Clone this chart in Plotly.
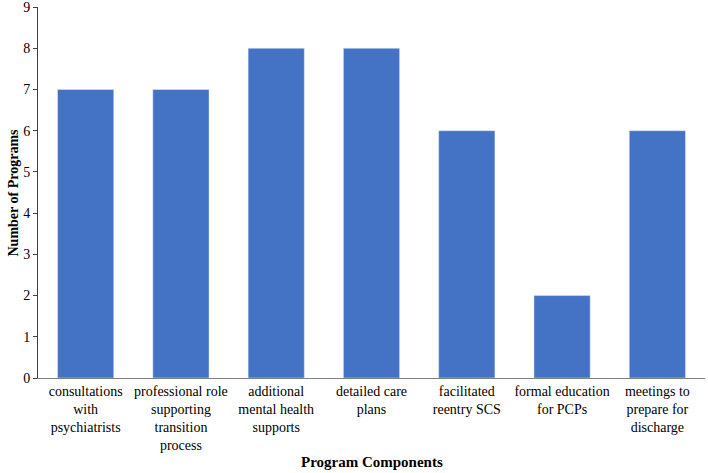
import plotly.graph_objects as go

categories = [
    "consultations<br>with<br>psychiatrists",
    "professional role<br>supporting<br>transition<br>process",
    "additional<br>mental health<br>supports",
    "detailed care<br>plans",
    "facilitated<br>reentry SCS",
    "formal education<br>for PCPs",
    "meetings to<br>prepare for<br>discharge",
]
values = [7, 7, 8, 8, 6, 2, 6]
y_ticks = list(range(0, 10))

font_family = "Liberation Serif, Times New Roman, serif"

fig = go.Figure(go.Bar(x=categories, y=values, marker_color="#4472C4", width=0.59))

fig.update_layout(
    width=708, height=473,
    margin=dict(l=38, r=3, t=7, b=95, autoexpand=False),
    plot_bgcolor="white", paper_bgcolor="white",
    font=dict(family=font_family, size=14, color="#000000"),
    showlegend=False,
    bargap=0.41,
    annotations=[
        dict(text="<b>Program Components</b>", xref="paper", yref="paper",
             x=0.5, y=0, yshift=-84, xanchor="center", yanchor="middle",
             showarrow=False, font=dict(family=font_family, size=15)),
        dict(text="<b>Number of Programs</b>", xref="paper", yref="paper",
             x=0, y=0.5, xshift=-25, xanchor="center", yanchor="middle", textangle=-90,
             showarrow=False, font=dict(family=font_family, size=14)),
    ],
)
fig.update_xaxes(
    showline=True, linecolor="#7f7f7f", linewidth=1,
    ticks="", showgrid=False, automargin=False,
    tickfont=dict(family=font_family, size=14),
)
fig.update_yaxes(
    range=[0, 9.001], tickvals=y_ticks, automargin=False,
    showline=True, linecolor="#404040", linewidth=1,
    ticks="outside", ticklen=4, tickcolor="#404040",
    showgrid=False, zeroline=False, ticklabeloverflow="allow",
    tickfont=dict(family=font_family, size=14),
)

fig.write_html(
    "out.html",
    config={"displayModeBar": False},
    post_script="document.body.style.margin='0';document.body.style.overflow='hidden';",
)
